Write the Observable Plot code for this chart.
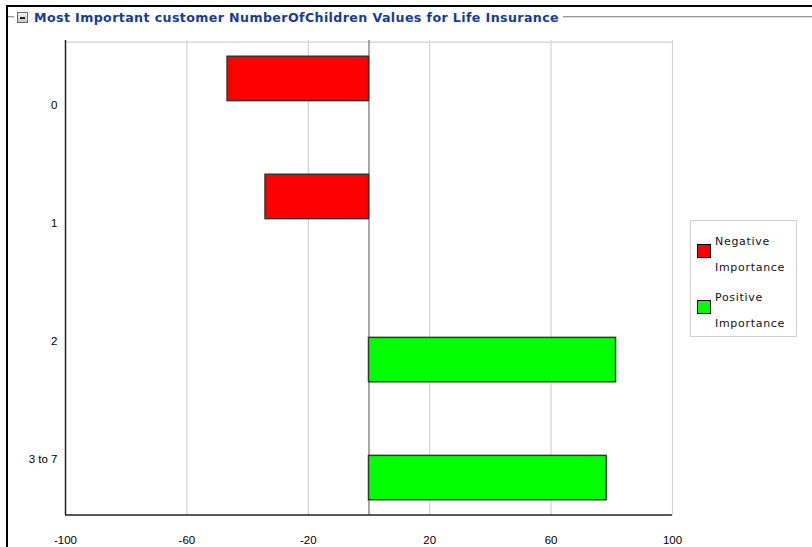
<!DOCTYPE html>
<html>
<head>
<meta charset="utf-8">
<script src="https://cdn.jsdelivr.net/npm/d3@7"></script>
<script src="https://cdn.jsdelivr.net/npm/@observablehq/plot@0.6"></script>
<style>
  html, body { margin: 0; padding: 0; background: #fff; }
  #wrap { position: relative; width: 812px; height: 547px; overflow: hidden; }
  #outer { position: absolute; left: 6px; top: 5px; width: 820px; height: 560px;
           border-top: 2px solid #000; border-left: 2px solid #000; }
  #rule { position: absolute; left: 8px; top: 16px; width: 804px; height: 0;
          border-top: 1px solid #999; border-bottom: 1px solid #ddd; }
  #title { position: absolute; left: 14px; top: 9px; padding: 0 4px 0 3px; background: #fff;
           font-family: "DejaVu Sans", Verdana, sans-serif; font-weight: bold; font-size: 12.6px;
           letter-spacing: 0.4px; color: #173a9e; white-space: nowrap; line-height: 17px; }
  #icon { display: inline-block; width: 9px; height: 9px; border: 1px solid #6a6a6a;
          background: linear-gradient(#f4f4f4, #c8c8c8); position: relative; vertical-align: -1px;
          margin-right: 6px; }
  #icon::after { content: ""; position: absolute; left: 2px; top: 4px; width: 5px; height: 1.5px; background: #222; }
  #chart { position: absolute; left: 0; top: 0; }
  #legend { position: absolute; left: 690px; top: 220px; width: 105px; height: 115px;
            border: 1px solid #cfcfcf; font-family: "DejaVu Sans", Verdana, sans-serif;
            font-size: 11px; letter-spacing: 0.7px; color: #111; }
  .item { position: absolute; left: 6px; }
  .sw { position: absolute; left: 0; top: 9px; width: 12px; height: 12px; border: 1px solid #000; }
  .lab { position: absolute; left: 18px; top: 0; line-height: 26px; white-space: nowrap; }
</style>
</head>
<body>
<div id="wrap">
  <div id="outer"></div>
  <div id="rule"></div>
  <div id="chart"></div>
  <div id="title"><span id="icon"></span>Most Important customer NumberOfChildren Values for Life Insurance</div>
  <div id="legend"></div>
</div>
<script>
// ---- data ----
const categories = ["0", "1", "2", "3 to 7"];
const negativeImportance = [-46.6, -34.1, 0, 0];
const positiveImportance = [0, 0, 81.4, 78.3];
const xTicks = [-100, -60, -20, 20, 60, 100];
const gridTicks = [-60, -20, 20, 60, 100];
const seriesNames = ["Negative Importance", "Positive Importance"];
const seriesColors = ["#ff0000", "#00ff00"];

const rows = [];
categories.forEach((c, i) => {
  rows.push({category: c, series: seriesNames[0], value: negativeImportance[i]});
  rows.push({category: c, series: seriesNames[1], value: positiveImportance[i]});
});

const W = 812, H = 547, mt = 40, mb = 32, ml = 65, mr = 140;
const bw = (H - mt - mb) / categories.length;
const outer = 0.12 * bw, half = 0.5 * bw;

const chart = Plot.plot({
  width: W,
  height: H,
  marginTop: mt,
  marginBottom: mb,
  marginLeft: ml,
  marginRight: mr,
  style: {fontFamily: "'Liberation Sans', Arial, sans-serif", fontSize: "11.5px", color: "#000", background: "transparent"},
  x: {domain: [-100, 100], ticks: xTicks, tickSize: 0, tickPadding: 20, label: null},
  y: {domain: categories, padding: 0, tickSize: 0, tickPadding: 8, label: null},
  color: {domain: seriesNames, range: seriesColors},
  marks: [
    Plot.ruleX(gridTicks, {stroke: "#d2d2d2", strokeWidth: 1.2}),
    Plot.ruleY([categories[0]], {y: d => d, stroke: "#d2d2d2", strokeWidth: 1.2, dy: -bw / 2}),
    Plot.ruleX([0], {stroke: "#8a8a8a", strokeWidth: 1.5}),
    Plot.barX(rows.filter(d => d.series === seriesNames[0] && d.value !== 0), {
      x: "value", y: "category", fill: "series", stroke: "#333", strokeWidth: 1.5,
      insetTop: outer, insetBottom: half
    }),
    Plot.barX(rows.filter(d => d.series === seriesNames[1] && d.value !== 0), {
      x: "value", y: "category", fill: "series", stroke: "#333", strokeWidth: 1.5,
      insetTop: half, insetBottom: outer
    }),
    Plot.ruleX([-100], {stroke: "#222", strokeWidth: 1.5}),
    Plot.ruleY([categories[categories.length - 1]], {y: d => d, stroke: "#222", strokeWidth: 1.5, dy: bw / 2}),
    Plot.axisY({tickSize: 0, tickPadding: 8, dy: 4, fontSize: 11.5, fill: "#000"}),
    Plot.axisX({ticks: xTicks, tickSize: 0, tickPadding: 20, fontSize: 11.5, fill: "#000",
                tickFormat: d => String(d)})
  ]
});
document.getElementById("chart").appendChild(chart);

// legend
const legend = document.getElementById("legend");
seriesNames.forEach((name, i) => {
  const [a, b] = name.split(" ");
  const item = document.createElement("div");
  item.className = "item";
  item.style.top = (14 + i * 56) + "px";
  item.innerHTML = `<div class="sw" style="background:${seriesColors[i]}"></div>` +
    `<div class="lab" style="top:-6px">${a}</div><div class="lab" style="top:20px">${b}</div>`;
  legend.appendChild(item);
});
</script>
</body>
</html>
